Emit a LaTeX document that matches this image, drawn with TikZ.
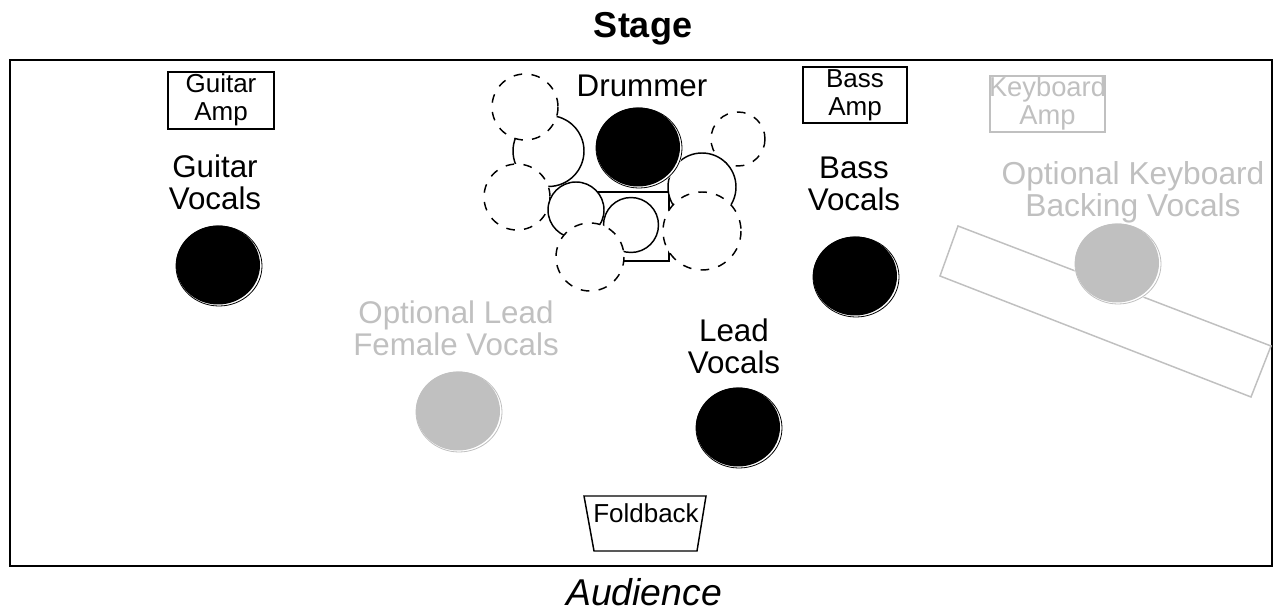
\documentclass[tikz,border=0pt]{standalone}
\usepackage{fontspec}
\setmainfont{Liberation Sans}
\definecolor{optgray}{HTML}{C0C0C0}
\tikzset{
  every node/.style={inner sep=0pt,outer sep=0pt,align=center},
  boxln/.style={draw=black,line width=1.1pt},
  txtbig/.style={font=\fontsize{23.5}{24}\selectfont},
  txtwide/.style={font=\fontsize{23.8}{24}\selectfont},
  txtsmall/.style={font=\fontsize{19.5}{21}\selectfont},
  soliddrum/.style={draw=black,fill=white,line width=1.1pt},
  dashdrum/.style={draw=black,fill=white,line width=1.1pt,dash pattern=on 6.5pt off 7pt},
  halo/.style={fill=none,line width=0.6pt},
  gbox/.style={draw=optgray,line width=1.1pt},
}
\newcommand{\person}[3]{% x,y,colour
  \fill[white] (#1+1,#2+1) circle[x radius=44,y radius=41];
  \draw[#3,halo] (#1+1,#2+1) circle[x radius=43,y radius=40];
  \fill[#3] (#1,#2) circle[x radius=42,y radius=39.5];
}
\begin{document}
\begin{tikzpicture}[x=0.75pt,y=-0.75pt]
\useasboundingbox (0,0) rectangle (1282,609);
\fill[white] (0,0) rectangle (1282,609);
\node[boxln,minimum width=1262*0.75pt,minimum height=506*0.75pt] (stagebox) at (641,313) {};
\node[font=\fontsize{27}{29}\selectfont\bfseries] (stagelabel) at (643,29) {Stage};
\node[font=\fontsize{28}{30}\selectfont\itshape] (audience) at (644,592) {Audience};

% keyboard riser
\draw[gbox] (958,226) -- (1271,346) -- (1251,397) -- (940,276) -- cycle;

% amps
\node[boxln,minimum width=106*0.75pt,minimum height=57*0.75pt] (guitaramp) at (221,100.5) {};
\node[txtsmall] (guitaramptext) at (221,100) {Guitar\\Amp};
\node[boxln,minimum width=104*0.75pt,minimum height=56*0.75pt] (bassamp) at (855,95) {};
\node[txtsmall] (bassamptext) at (855,95.5) {Bass\\Amp};
\node[gbox,minimum width=115*0.75pt,minimum height=56*0.75pt] (keyamp) at (1047.5,104) {};
\node[font=\fontsize{20.5}{21}\selectfont,text=optgray] (keyamptext) at (1047.5,103.5) {Keyboard\\Amp};

% drum kit
\draw[boxln,fill=white] (575,192) rectangle (669,261);
\draw[soliddrum] (548.5,151) circle[radius=35.5];
\draw[dashdrum] (525,107) circle[radius=33];
\draw[dashdrum] (517,197) circle[radius=33];
\draw[dashdrum] (738,139) circle[radius=27];
\draw[soliddrum] (702,187) circle[radius=34];
\draw[soliddrum] (576,210) circle[radius=28];
\draw[soliddrum] (631,225) circle[radius=27.5];
\draw[dashdrum] (590,257) circle[radius=34];
\draw[dashdrum] (702,231) circle[radius=39];
\person{638}{147}{black}
\node[txtbig] (drummer) at (642,86) {Drummer};

% performers
\person{218}{265}{black}
\node[txtbig] (guitarv) at (215,182) {Guitar\\Vocals};
\person{855}{276}{black}
\node[txtbig] (bassv) at (854,184) {Bass\\Vocals};
\person{738}{427}{black}
\node[txtbig] (leadv) at (734,346) {Lead\\Vocals};
\person{458}{411}{optgray}
\node[txtbig,text=optgray] (femalev) at (456,328) {Optional Lead\\Female Vocals};
\person{1117}{263}{optgray}
\node[txtwide,text=optgray] (keyv) at (1133,192) {Optional Keyboard\\Backing Vocals};

% foldback
\draw[boxln] (584,496) -- (706,496) -- (697,551) -- (594,551) -- cycle;
\node[txtsmall] (foldback) at (646,513) {Foldback};
\end{tikzpicture}
\end{document}
